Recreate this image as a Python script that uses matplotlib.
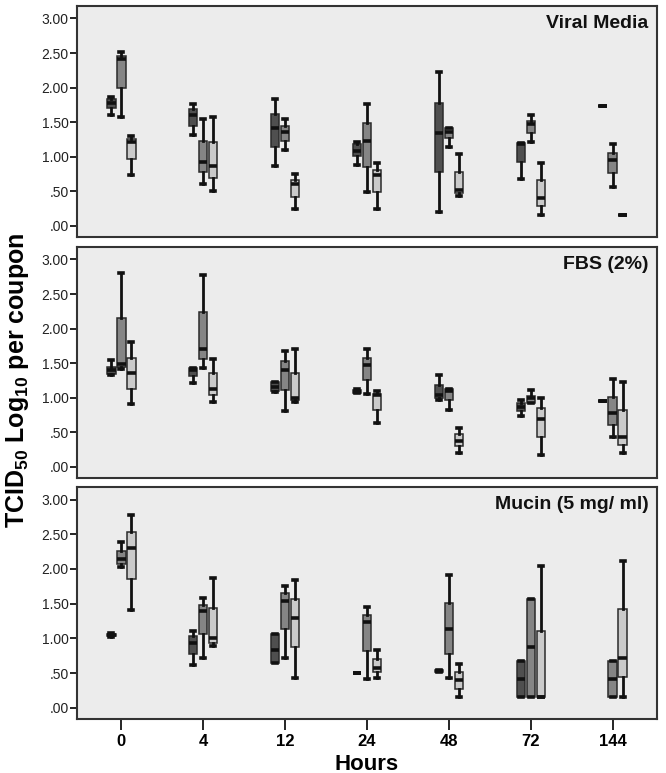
import matplotlib.pyplot as plt
import numpy as np

plt.rcParams['font.family'] = ['Liberation Sans', 'DejaVu Sans']
plt.rcParams['mathtext.fontset'] = 'custom'
plt.rcParams['mathtext.rm'] = 'Liberation Sans'
plt.rcParams['mathtext.bf'] = 'Liberation Sans:bold'

hours = ['0', '4', '12', '24', '48', '72', '144']
panel_titles = ['Viral Media', 'FBS (2%)', 'Mucin (5 mg/ ml)']
y_ticks = [0.0, 0.5, 1.0, 1.5, 2.0, 2.5, 3.0]
y_tick_labels = ['.00', '.50', '1.00', '1.50', '2.00', '2.50', '3.00']

# (whisker low, q1, median, q3, whisker high) per time point, None = no data
vm_dark = [(1.60, 1.71, 1.78, 1.84, 1.87), (1.32, 1.45, 1.60, 1.69, 1.76),
           (0.87, 1.14, 1.41, 1.62, 1.84), (0.88, 1.01, 1.09, 1.18, 1.21),
           (0.20, 0.78, 1.35, 1.78, 2.23), (0.68, 0.93, 1.19, 1.20, 1.20),
           (1.73, 1.73, 1.73, 1.73, 1.73)]
vm_mid = [(1.57, 1.99, 2.41, 2.46, 2.51), (0.61, 0.78, 0.93, 1.23, 1.54),
          (1.10, 1.23, 1.36, 1.45, 1.54), (0.49, 0.85, 1.23, 1.49, 1.76),
          (1.14, 1.27, 1.36, 1.41, 1.41), (1.22, 1.34, 1.47, 1.52, 1.60),
          (0.56, 0.76, 0.95, 1.06, 1.18)]
vm_light = [(0.74, 0.97, 1.21, 1.25, 1.30), (0.51, 0.70, 0.87, 1.22, 1.57),
            (0.24, 0.42, 0.61, 0.67, 0.75), (0.25, 0.49, 0.73, 0.81, 0.91),
            (0.43, 0.47, 0.52, 0.78, 1.04), (0.16, 0.29, 0.40, 0.66, 0.91),
            (0.16, 0.16, 0.16, 0.16, 0.16)]

fbs_dark = [(1.33, 1.35, 1.40, 1.44, 1.54), (1.21, 1.32, 1.40, 1.43, 1.43),
            (1.09, 1.10, 1.16, 1.23, 1.23), (1.07, 1.07, 1.09, 1.11, 1.13),
            (0.97, 0.99, 1.04, 1.18, 1.33), (0.74, 0.81, 0.87, 0.92, 0.97),
            (0.95, 0.95, 0.95, 0.95, 0.95)]
fbs_mid = [(1.42, 1.44, 1.49, 2.15, 2.80), (1.43, 1.56, 1.71, 2.24, 2.78),
           (0.81, 1.11, 1.40, 1.53, 1.68), (1.06, 1.25, 1.47, 1.58, 1.71),
           (0.82, 0.97, 1.10, 1.12, 1.13), (0.92, 0.93, 1.00, 1.03, 1.11),
           (0.44, 0.61, 0.78, 1.01, 1.27)]
fbs_light = [(0.91, 1.13, 1.36, 1.58, 1.81), (0.94, 1.04, 1.13, 1.36, 1.56),
             (0.94, 0.97, 1.00, 1.36, 1.71), (0.63, 0.83, 1.04, 1.06, 1.10),
             (0.20, 0.30, 0.38, 0.47, 0.57), (0.17, 0.44, 0.70, 0.85, 1.00),
             (0.20, 0.31, 0.44, 0.83, 1.23)]

muc_dark = [(1.02, 1.03, 1.05, 1.07, 1.08), (0.62, 0.78, 0.94, 1.03, 1.11),
            (0.64, 0.64, 0.84, 1.06, 1.06), (0.50, 0.50, 0.50, 0.50, 0.50),
            (0.51, 0.51, 0.53, 0.55, 0.55), (0.16, 0.16, 0.41, 0.67, 0.67),
            None]
muc_mid = [(2.03, 2.07, 2.15, 2.26, 2.39), (0.72, 1.06, 1.40, 1.48, 1.58),
           (0.72, 1.13, 1.54, 1.65, 1.76), (0.41, 0.82, 1.23, 1.34, 1.45),
           (0.43, 0.78, 1.13, 1.51, 1.91), (0.16, 0.16, 0.87, 1.57, 1.57),
           (0.16, 0.16, 0.41, 0.67, 0.67)]
muc_light = [(1.41, 1.86, 2.30, 2.53, 2.77), (0.89, 0.94, 1.01, 1.44, 1.87),
             (0.43, 0.87, 1.30, 1.57, 1.84), (0.43, 0.51, 0.58, 0.70, 0.83),
             (0.16, 0.27, 0.40, 0.51, 0.63), (0.16, 0.16, 0.16, 1.10, 2.04),
             (0.16, 0.44, 0.72, 1.42, 2.11)]

panels = [(vm_dark, vm_mid, vm_light),
          (fbs_dark, fbs_mid, fbs_light),
          (muc_dark, muc_mid, muc_light)]
colors = ['#4f4f4f', '#858585', '#cacaca']
offsets = [-0.122, 0.0, 0.122]

fig = plt.figure(figsize=(6.66, 7.73), dpi=100)
tops = [6, 247, 487]
bottoms = [237, 478, 719]
left, right = 77, 657

for i, series in enumerate(panels):
    ax = fig.add_axes([left / 666, 1 - bottoms[i] / 773,
                       (right - left) / 666, (bottoms[i] - tops[i]) / 773])
    ax.set_facecolor('#ececec')
    for vals, col, off in zip(series, colors, offsets):
        stats, pos = [], []
        for j, v in enumerate(vals):
            if v is None:
                continue
            stats.append(dict(whislo=v[0], q1=v[1], med=v[2], q3=v[3],
                              whishi=v[4], fliers=[]))
            pos.append(j + off)
        ax.bxp(stats, positions=pos, widths=0.105, capwidths=0.045,
               patch_artist=True, manage_ticks=False, showfliers=False,
               boxprops=dict(facecolor=col, edgecolor='#2a2a2a', linewidth=1.1),
               medianprops=dict(color='#111111', linewidth=2.6),
               whiskerprops=dict(color='#111111', linewidth=2.0),
               capprops=dict(color='#111111', linewidth=2.6))
    ax.set_xlim(-0.54, 6.54)
    ax.set_ylim(-0.16, 3.18)
    ax.set_yticks(y_ticks)
    ax.set_yticklabels(y_tick_labels, fontsize=10, color='#222222')
    ax.tick_params(axis='y', length=5, width=1.2, pad=1)
    for sp in ax.spines.values():
        sp.set_linewidth(1.5)
        sp.set_color('#333333')
    ax.text(0.985, 0.925, panel_titles[i], transform=ax.transAxes,
            ha='right', va='center', fontsize=14, fontweight='bold',
            color='#111111')
    if i < 2:
        ax.set_xticks([])
    else:
        ax.set_xticks(np.arange(len(hours)))
        ax.set_xticklabels(hours, fontsize=12, fontweight='bold')
        ax.tick_params(axis='x', length=8, width=1.2, pad=3)

fig.text((left + right) / 2 / 666, 1 - 764 / 773, 'Hours', ha='center',
         va='center', fontsize=16, fontweight='bold')
fig.text(0.026, 1 - 380 / 773,
         r'TCID$_{\mathbf{50}}$ Log$_{\mathbf{10}}$ per coupon',
         rotation=90, ha='center', va='center', fontsize=18,
         fontweight='bold')

fig.savefig('out.png', dpi=100)
